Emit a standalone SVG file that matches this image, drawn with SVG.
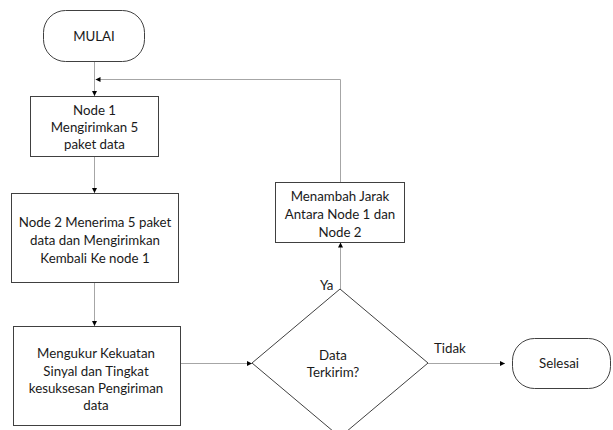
<svg xmlns="http://www.w3.org/2000/svg" width="613" height="430" viewBox="0 0 613 430">
<style>
.shape{fill:#fff;stroke:#404040;stroke-width:1}
.t{font-family:Lato,"Open Sans","Liberation Sans",sans-serif;font-size:13.3px;fill:#1a1a1a;text-anchor:middle}
.l{font-family:Lato,"Open Sans","Liberation Sans",sans-serif;font-size:13.3px;fill:#1a1a1a}
.c{fill:none;stroke:#a6a6a6;stroke-width:1}
</style>
<defs>
<marker id="ah" markerWidth="5" markerHeight="5" refX="5" refY="2.5" orient="auto" markerUnits="userSpaceOnUse">
<path d="M0,0 L5,2.5 L0,5 Z" fill="#000"/>
</marker>
</defs>
<rect width="613" height="430" fill="#fff"/>
<g id="connectors">
<path class="c" d="M94.5,61 V96" marker-end="url(#ah)"/>
<path class="c" d="M340.5,182 V79.5 H95.5" marker-end="url(#ah)"/>
<path class="c" d="M94.5,156 V193" marker-end="url(#ah)"/>
<path class="c" d="M94.5,282 V326" marker-end="url(#ah)"/>
<path class="c" d="M180,363.5 H252" marker-end="url(#ah)"/>
<path class="c" d="M340.5,289 V242.5" marker-end="url(#ah)"/>
<path class="c" d="M428,363.5 H505" marker-end="url(#ah)"/>
<text class="l" x="320" y="290">Ya</text>
<text class="l" x="434" y="353">Tidak</text>
</g>
<g id="mulai">
<rect class="shape" x="43.5" y="10.5" width="101" height="51" rx="22" ry="22"/>
<text class="t" x="94" y="41">MULAI</text>
</g>
<g id="node1">
<rect class="shape" x="30.5" y="96.5" width="128" height="60"/>
<text class="t" x="94.5" y="115">Node 1</text>
<text class="t" x="94.5" y="132">Mengirimkan 5</text>
<text class="t" x="94.5" y="149">paket data</text>
</g>
<g id="node2">
<rect class="shape" x="11.5" y="193.5" width="167" height="89"/>
<text class="t" x="95" y="227">Node 2 Menerima 5 paket</text>
<text class="t" x="95" y="245">data dan Mengirimkan</text>
<text class="t" x="95" y="263">Kembali Ke node 1</text>
</g>
<g id="node3">
<rect class="shape" x="13.5" y="326.5" width="167" height="99"/>
<text class="t" x="96" y="358">Mengukur Kekuatan</text>
<text class="t" x="96" y="376">Sinyal dan Tingkat</text>
<text class="t" x="96" y="393">kesuksesan Pengiriman</text>
<text class="t" x="96" y="410">data</text>
</g>
<g id="menambah">
<rect class="shape" x="275.5" y="182.5" width="129" height="60"/>
<text class="t" x="340" y="201">Menambah Jarak</text>
<text class="t" x="340" y="219">Antara Node 1 dan</text>
<text class="t" x="340" y="237">Node 2</text>
</g>
<g id="decision">
<polygon class="shape" points="340,289 428,363 340,437 252,363"/>
<text class="t" x="333" y="360">Data</text>
<text class="t" x="333" y="377">Terkirim?</text>
</g>
<g id="selesai">
<rect class="shape" x="512.5" y="338.5" width="98" height="50" rx="22" ry="22"/>
<text class="t" x="559" y="368">Selesai</text>
</g>
</svg>
